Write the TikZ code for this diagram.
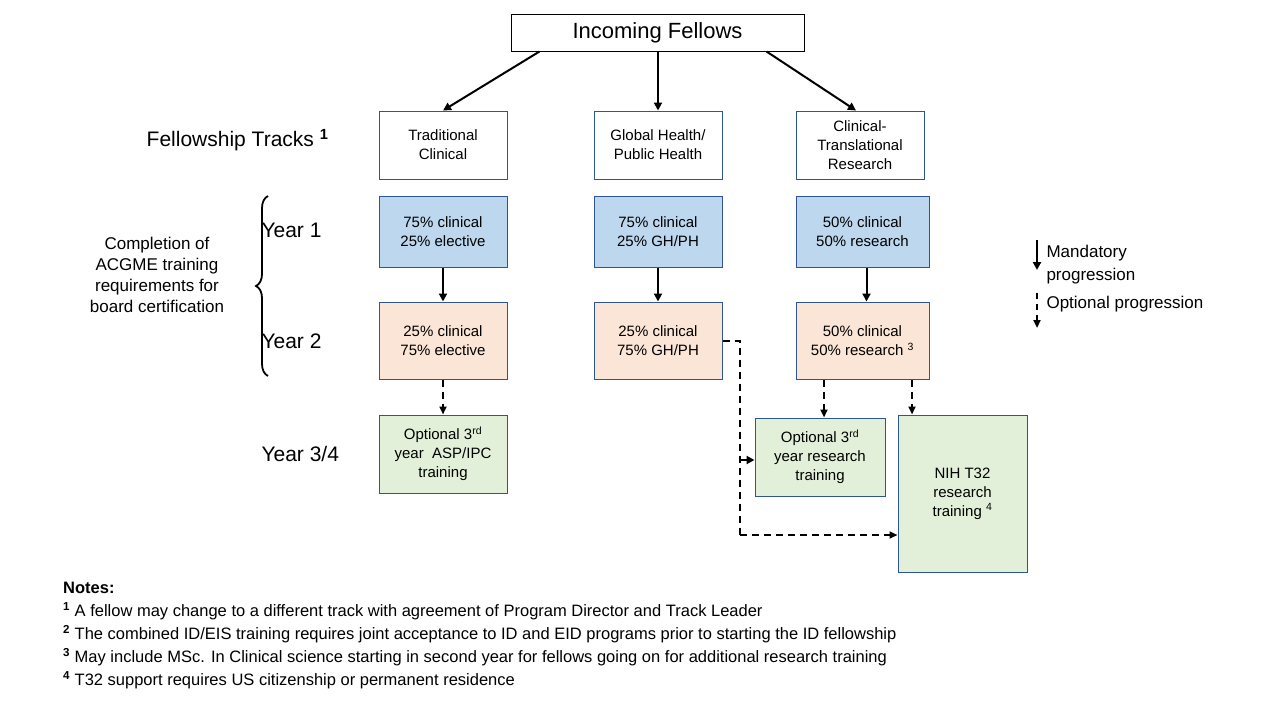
\documentclass[tikz,border=0pt]{standalone}
\usepackage{fontspec}
\setmainfont{Liberation Sans}
\usetikzlibrary{arrows.meta,decorations.pathreplacing}
\definecolor{bd}{HTML}{2F5597}
\definecolor{fb}{HTML}{BDD7EE}
\definecolor{fo}{HTML}{FBE5D6}
\definecolor{fg}{HTML}{E2F0D9}
\begin{document}
\begin{tikzpicture}[x=1pt,y=-1pt,
 box/.style={draw=bd,line width=1pt,align=center,font=\fontsize{15}{19}\selectfont,inner sep=0pt},
 trk/.style={box,fill=white},
 blu/.style={box,fill=fb},
 org/.style={box,fill=fo},
 grn/.style={box,fill=fg},
 sol/.style={-{Triangle[length=8pt,width=8pt]},line width=2pt},
 dsh/.style={-{Triangle[length=8pt,width=7pt]},line width=2pt,dash pattern=on 7pt off 5pt},
 lab/.style={font=\fontsize{21}{24}\selectfont}]
\useasboundingbox (0,0) rectangle (1280,720);
\newcommand\bx[6]{\node[#1,minimum width=#4-#2,minimum height=#5-#3] (#6) at ({(#2+#4)/2},{(#3+#5)/2})}
\bx{box}{511}{14}{804}{51}{inc} {\fontsize{22}{26}\selectfont Incoming Fellows};
\path (inc) node[draw=black,line width=1pt,minimum width=293,minimum height=37] (incb) {};
\bx{trk}{379}{111}{507}{179}{t1} {Traditional\\Clinical};
\bx{trk}{594}{111}{722}{179}{t2} {Global Health/\\Public Health};
\bx{trk}{796}{111}{924}{179}{t3} {Clinical-\\Translational\\Research};
\bx{blu}{379}{196}{507}{267}{a1} {75\% clinical\\25\% elective};
\bx{blu}{594}{196}{722}{267}{a2} {75\% clinical\\25\% GH/PH};
\bx{blu}{796}{196}{929}{267}{a3} {50\% clinical\\50\% research};
\bx{org}{379}{302}{507}{379}{b1} {25\% clinical\\75\% elective};
\bx{org}{594}{302}{722}{379}{b2} {25\% clinical\\75\% GH/PH};
\bx{org}{796}{302}{929}{379}{b3} {50\% clinical\\50\% research \textsuperscript{3}};
\bx{grn}{379}{415}{507}{493}{c1} {Optional 3\textsuperscript{rd}\\year\ \ ASP/IPC\\training};
\bx{grn}{755}{418}{885}{496}{c2} {Optional 3\textsuperscript{rd}\\year research\\training};
\bx{grn}{898}{415}{1027}{572}{c3} {NIH T32\\research\\training \textsuperscript{4}};
\draw[sol] (inc.south west)++(29,0) -- (t1.north);
\draw[sol] (inc.south -| t2.north) -- (t2.north);
\draw[sol] (inc.south east)++(-38,0) -- ([xshift=-4pt]t3.north);
\draw[sol] (a1) -- (b1);
\draw[sol] (a2) -- (b2);
\draw[sol] ([xshift=4pt]a3.south) -- ([xshift=4pt]b3.north);
\draw[dsh] (b1) -- (c1);
\draw[dsh] (b3.south -| 824,0) -- (c2.north -| 824,0);
\draw[dsh] (b3.south -| 912,0) -- (c3.north -| 912,0);
\coordinate (p) at (740,341);
\coordinate (q) at (740,535);
\draw[line width=2pt,dash pattern=on 7pt off 5pt] (b2.east |- p) -- (p) -- (q);
\draw[dsh] (q) -- (q -| c3.west);
\draw[sol] (740,460) -- (c2.west |- 740,460);
\node[lab,anchor=east] (ft) at (332,140) {Fellowship Tracks \textsuperscript{\bfseries 1}};
\node[lab,anchor=west] (y1) at (258,230) {Year 1};
\node[lab,anchor=west] (y2) at (258,341) {Year 2};
\node[lab,anchor=west] (y3) at (258,454) {Year 3/4};
\draw[line width=1.8pt,decorate,decoration={brace,amplitude=12pt}] (268,376) -- (268,196);
\node[align=center,font=\fontsize{17}{21}\selectfont] (cmp) at (157,275) {Completion of\\ACGME training\\requirements for\\board certification};
\coordinate (ls1) at (1037,240); \coordinate (le1) at (1037,270);
\coordinate (ls2) at (1037,293); \coordinate (le2) at (1037,328);
\draw[sol] (ls1) -- (le1);
\draw[dsh,dash pattern=on 6pt off 5pt] (ls2) -- (le2);
\node[anchor=west,align=left,font=\fontsize{17}{23}\selectfont] (lm) at (1043,265) {Mandatory\\progression};
\node[anchor=west,font=\fontsize{17}{20}\selectfont] (lo) at (1043,304) {Optional progression};
\node[anchor=north west,align=left,inner sep=0pt,font=\fontsize{16.5}{23}\selectfont] (notes) at (63,582) {\textbf{Notes:}\\
\textsuperscript{\bfseries 1} A fellow may change to a different track with agreement of Program Director and Track Leader\\
\textsuperscript{\bfseries 2} The combined ID/EIS training requires joint acceptance to ID and EID programs prior to starting the ID fellowship\\
\textsuperscript{\bfseries 3} May include MSc. In Clinical science starting in second year for fellows going on for additional research training\\
\textsuperscript{\bfseries 4} T32 support requires US citizenship or permanent residence};
\end{tikzpicture}
\end{document}
